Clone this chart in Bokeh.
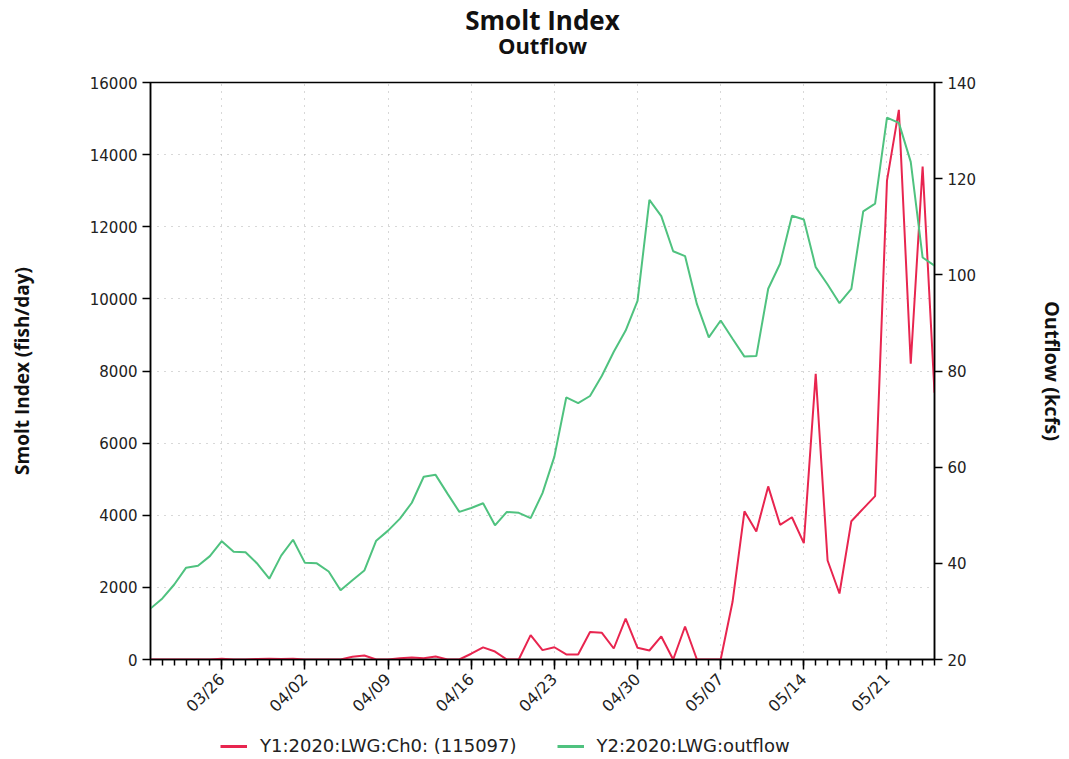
import pandas as pd
from bokeh.plotting import figure
from bokeh.layouts import column
from bokeh.models import (LinearAxis, Range1d, FixedTicker, DatetimeTickFormatter,
                          Legend, LegendItem, Title)
from bokeh.embed import file_html
from bokeh.resources import INLINE

# ---- data ----
start_date = "2020-03-20"
end_date = "2020-05-25"
dates = pd.date_range(start_date, end_date, freq="D")

smolt_index = [0, 0, 0, 0, 0, 0, 20, 0, 0, 15, 20, 15,
               20, 0, 0, 0, 0, 75, 110, 0, 0, 35, 55, 35, 85, 0, 0, 160, 335, 220,
               0, 0, 675, 260, 340, 140, 140, 765, 740, 305, 1135, 325,
               250, 640, 0, 915, 0, 0, 0, 1600, 4110, 3550, 4800, 3735, 3945, 3225,
               7920, 2745, 1830, 3835, 4185, 4530, 13280, 15240, 8200, 13670, 7400]

outflow = [30.6, 32.7, 35.6, 39.1, 39.5, 41.5, 44.6, 42.4, 42.3, 39.9, 36.8, 41.6,
           44.9, 40.1, 40.0, 38.3, 34.4, 36.5, 38.5, 44.7, 46.8, 49.3, 52.6, 58.0,
           58.4, 54.5, 50.7, 51.5, 52.5, 47.9, 50.7, 50.5, 49.4, 54.6, 62.2, 74.5,
           73.3, 74.8, 79.0, 84.0, 88.4, 94.6,
           115.6, 112.2, 104.9, 103.9, 93.9, 87.0, 90.5, 86.7, 83.0, 83.1, 97.1,
           102.3, 112.3, 111.5, 101.6, 98.0, 94.1, 97.1, 113.2, 114.8, 132.7,
           131.6, 123.5, 103.6, 101.9]

x_major_labels = ["03/26", "04/02", "04/09", "04/16", "04/23", "04/30", "05/07", "05/14", "05/21"]
y1_ticks = [0, 2000, 4000, 6000, 8000, 10000, 12000, 14000, 16000]
y2_ticks = [20, 40, 60, 80, 100, 120, 140]

title_text = "Smolt Index"
subtitle_text = "Outflow"
series_names = ["Y1:2020:LWG:Ch0: (115097)", "Y2:2020:LWG:outflow"]
colors = ["#e8254f", "#4fc27f"]

# ---- helpers ----
def ms(ts):
    return pd.Timestamp(ts).value / 1e6

major_ms = [ms("2020-" + lab.replace("/", "-")) for lab in x_major_labels]
minor_ms = [ms(d) for d in dates]

TICK_FONT = "DejaVu Sans"
LABEL_FONT = "Open Sans"

MAIN_H = 725
LEG_H = 759 - MAIN_H
BORDER_L = 150
BORDER_R = 133

p = figure(width=1069, height=MAIN_H, x_axis_type="datetime", title=None,
           x_range=Range1d(ms(start_date), ms(end_date)),
           y_range=Range1d(0, 16000),
           output_backend="svg", toolbar_location=None,
           min_border_left=BORDER_L, min_border_right=BORDER_R,
           min_border_top=82, min_border_bottom=MAIN_H - 659)

# titles stacked from the frame outward: spacer, subtitle, title
p.add_layout(Title(text=" ", text_font_size="10px", standoff=12), "above")
p.add_layout(Title(text=subtitle_text, align="center", text_font=LABEL_FONT,
                   text_font_size="22px", text_font_style="bold",
                   text_color="#111111", standoff=-4), "above")
p.add_layout(Title(text=title_text, align="center", text_font=LABEL_FONT,
                   text_font_size="26px", text_font_style="bold",
                   text_color="#111111", standoff=-16), "above")

p.extra_y_ranges = {"flow": Range1d(20, 140)}

r1 = p.line(dates, smolt_index, line_color=colors[0], line_width=2)
r2 = p.line(dates, outflow, line_color=colors[1], line_width=2, y_range_name="flow")

# x axis
xa = p.xaxis[0]
xa.ticker = FixedTicker(ticks=major_ms, minor_ticks=minor_ms)
fmt = "%m/%d"
xa.formatter = DatetimeTickFormatter(microseconds=fmt, milliseconds=fmt, seconds=fmt,
                                     minsec=fmt, minutes=fmt, hourmin=fmt, hours=fmt,
                                     days=fmt, months=fmt, years=fmt)
xa.major_label_orientation = 0.785398
xa.major_tick_out = 10
xa.major_tick_in = 0
xa.minor_tick_out = 6
xa.minor_tick_in = 0
xa.major_label_standoff = 7

# left axis
ya = p.yaxis[0]
ya.ticker = FixedTicker(ticks=y1_ticks)
ya.minor_tick_line_color = None
ya.axis_label = "Smolt Index (fish/day)"
ya.axis_label_standoff = 52

# right axis
ra = LinearAxis(y_range_name="flow", ticker=FixedTicker(ticks=y2_ticks),
                axis_label="Outflow (kcfs)")
ra.minor_tick_line_color = None
ra.axis_label_standoff = 60
p.add_layout(ra, "right")

for ax in [xa, ya, ra]:
    ax.axis_line_color = "black"
    ax.axis_line_width = 1.5
    ax.major_tick_line_color = "black"
    ax.major_tick_line_width = 1.5
    ax.major_label_text_font = TICK_FONT
    ax.major_label_text_font_size = "15px"
    ax.major_label_text_color = "#222222"
    ax.axis_label_text_font = LABEL_FONT
    ax.axis_label_text_font_style = "bold"
    ax.axis_label_text_color = "#111111"
xa.major_label_text_font_size = "16px"
ya.axis_label_text_font_size = "19px"
ra.axis_label_text_font_size = "20px"
for ax in [ya, ra]:
    ax.major_tick_out = 8
    ax.major_tick_in = 0
xa.minor_tick_line_color = "black"
xa.minor_tick_line_width = 1.5

p.outline_line_color = "black"
p.outline_line_width = 1.5

p.xgrid.ticker = FixedTicker(ticks=major_ms)
p.ygrid.ticker = FixedTicker(ticks=y1_ticks)
for g in [p.xgrid[0], p.ygrid[0]]:
    g.grid_line_color = "#b0b0b0"
    g.grid_line_dash = "1 6"
    g.grid_line_width = 1

# ---- legend strip (separate figure below the chart) ----
lg = figure(width=1069, height=LEG_H, x_range=Range1d(0, 1), y_range=Range1d(0, 1),
            output_backend="svg", toolbar_location=None, title=None,
            x_axis_location=None, y_axis_location=None,
            min_border_left=BORDER_L, min_border_right=BORDER_R,
            min_border_top=0, min_border_bottom=0)
lg.outline_line_color = None
lg.grid.visible = False
nan = float("nan")
s1 = lg.line([nan], [nan], line_color=colors[0], line_width=3)
s2 = lg.line([nan], [nan], line_color=colors[1], line_width=3)

legend = Legend(items=[LegendItem(label=series_names[0], renderers=[s1]),
                       LegendItem(label=series_names[1], renderers=[s2])],
                orientation="horizontal", location=(70, 3),
                border_line_color=None, background_fill_alpha=0,
                label_text_font=TICK_FONT, label_text_font_size="18px",
                label_text_color="#222222", label_height=20,
                glyph_width=27, label_standoff=13, spacing=40, padding=0, margin=0)
lg.add_layout(legend, "center")

layout = column(p, lg, spacing=0)
open("out.html", "w").write(file_html(layout, INLINE))
